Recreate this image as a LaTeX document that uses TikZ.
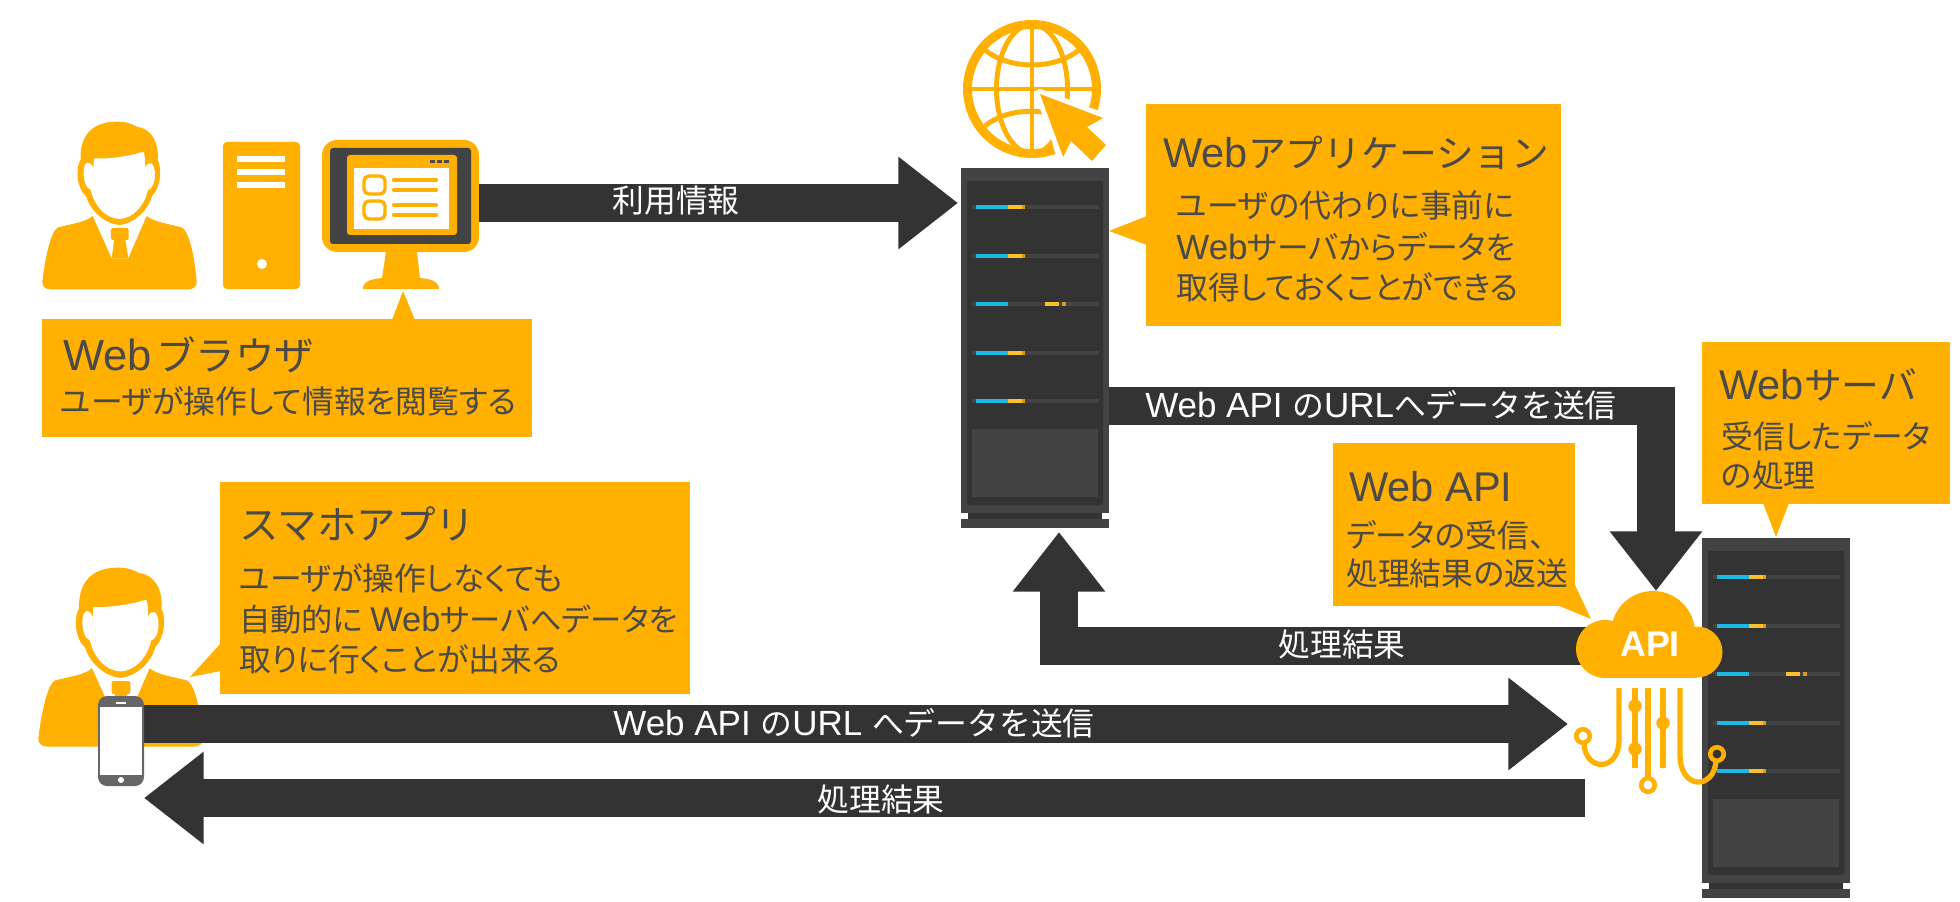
\documentclass[tikz,border=0pt]{standalone}
\usepackage{fontspec}
\setmainfont{Noto Sans CJK JP}
\newfontfamily\propfont[RawFeature=+palt]{Noto Sans CJK JP}
\newfontfamily\latfont[Scale=1.1]{Liberation Sans}
\newcommand{\lat}[1]{{\latfont #1}}
\usetikzlibrary{shapes,positioning,calc}
\usetikzlibrary{arrows.meta}
\definecolor{amber}{HTML}{FFB000}
\definecolor{ink}{HTML}{4A4A4A}
\definecolor{coal}{HTML}{333333}
\definecolor{frame}{HTML}{434343}
\definecolor{skyblue}{HTML}{1BB8E3}
\definecolor{lemon}{HTML}{FBC02D}
\definecolor{ochre}{HTML}{DC9A14}
\tikzstyle{bubble} = [rectangle, anchor=north west, inner sep=0pt, fill=amber]
\tikzstyle{bubbletitle} = [anchor=base west, inner sep=0pt, text=ink, font=\fontsize{21.5pt}{26pt}\selectfont]
\tikzstyle{bubblebody} = [anchor=base west, inner sep=0pt, text=ink, font=\propfont\fontsize{18.1pt}{22pt}\selectfont]
\tikzstyle{arrowlabel} = [anchor=base, inner sep=0pt, text=white, font=\fontsize{18.1pt}{22pt}\selectfont]
\tikzstyle{fatarrow} = [draw=coal, line width=21.8pt, -{Triangle[length=34pt,width=50.5pt]}]
\tikzstyle{wire} = [draw=amber, line width=3pt]
\tikzstyle{wirering} = [draw=amber, line width=2.6pt]
\tikzstyle{gridline} = [draw=amber, line width=2.8pt]

\begin{document}
\begin{tikzpicture}[x=0.02cm,y=-0.02cm]
	\useasboundingbox (0,0) rectangle (1960,902);
	% racks
	\foreach \rx/\ry in {961/168,1702/538} {
		\begin{scope}[shift={(\rx,\ry)}]
			\fill[frame] (0,0) rectangle (148,345);
			\fill[coal] (7,345) rectangle (141,351);
			\fill[frame] (0,351) rectangle (148,360);
			\fill[coal, rounded corners=.04cm] (6,13) rectangle (142,337);
			\fill[frame] (11,261) rectangle (137,329);
			\foreach \row in {39,87.5,136,184.5,233} {
				\fill[frame] (11,\row-2) rectangle (138,\row+2);
				\fill[skyblue] (15,\row-2) rectangle (47,\row+2);
			}
			\foreach \row in {39,87.5,184.5,233} {
				\fill[lemon] (47,\row-2) rectangle (61,\row+2);
				\fill[ochre] (61,\row-2) rectangle (64,\row+2);
			}
			\fill[lemon] (84,134) rectangle (98,138);
			\fill[ochre] (101,134) rectangle (105,138);
		\end{scope}
	}
	% persons
	\foreach \px/\py/\ps in {20/100/0.3333,14.5/544.5/0.3557} {
		\begin{scope}[shift={(\px,\py)},scale=\ps]
			\fill[amber] (67,545) .. controls (75,480) and (90,400) .. (112,383)
				.. controls (150,372) and (195,368) .. (218,348) -- (275,475) -- (325,475) -- (380,348)
				.. controls (405,368) and (450,372) .. (487,383)
				.. controls (510,400) and (525,480) .. (530,545)
				.. controls (531,560) and (520,568) .. (505,568) -- (92,568)
				.. controls (77,568) and (66,560) .. (67,545) -- cycle;
			\fill[amber, rounded corners=.04cm] (273,384) rectangle (326,420);
			\fill[amber] (283,418) -- (316,418) -- (325,475) -- (275,475) -- cycle;
			\fill[amber] (298,375) .. controls (250,370) and (210,330) .. (198,288)
				.. controls (180,275) and (170,240) .. (173,210)
				.. controls (174,195) and (178,185) .. (182,180)
				.. controls (178,110) and (215,65) .. (290,65)
				.. controls (320,65) and (335,72) .. (350,80)
				.. controls (395,85) and (418,130) .. (413,180)
				.. controls (425,200) and (425,260) .. (396,288)
				.. controls (385,330) and (345,370) .. (298,375) -- cycle;
			\fill[white] (222,175) .. controls (270,178) and (330,168) .. (370,155)
				.. controls (376,165) and (375,190) .. (376,203)
				.. controls (385,180) and (405,185) .. (405,225)
				.. controls (405,250) and (395,268) .. (384,270)
				.. controls (375,315) and (340,355) .. (298,357)
				.. controls (255,355) and (222,315) .. (212,270)
				.. controls (198,265) and (190,240) .. (191,215)
				.. controls (192,180) and (212,180) .. (220,205) -- cycle;
		\end{scope}
	}
	% desktop
	\fill[amber, rounded corners=.08cm] (223,142) rectangle (300,289);
	\foreach \sy in {156,169,182} {
		\fill[white] (237,\sy) rectangle (285,\sy+6);
	}
	\fill[white] (262,264) circle (5);
	% monitor
	\fill[amber, rounded corners=.3cm] (322,140) rectangle (479,252);
	\fill[frame, rounded corners=.06cm] (330,148) rectangle (471,244);
	\fill[amber, rounded corners=.06cm] (347,155) rectangle (457,235);
	\fill[white] (354,168) rectangle (449,229);
	\foreach \dx in {430,437,444} {
		\fill[ink] (\dx,160) rectangle (\dx+5,163);
	}
	\foreach \iy in {176,201} {
		\draw[amber, line width=1.9pt, rounded corners=.1cm] (364,\iy) rectangle (385,\iy+18);
		\draw[amber, line width=2.4pt, line cap=round] (394,\iy+4) -- (436,\iy+4);
		\draw[amber, line width=2.4pt, line cap=round] (394,\iy+14) -- (436,\iy+14);
	}
	\fill[amber] (386,252) -- (417,252) -- (420,278) .. controls (432,279) and (439,282) .. (439,289)
		-- (363,289) .. controls (363,282) and (370,279) .. (382,278) -- cycle;
	% globe
	\draw[amber, line width=5.1pt] (1032,89) ++(70:64.5) arc [start angle=70, end angle=378, radius=64.5];
	\draw[gridline] (1032,89) ellipse (35.5 and 64.5);
	\draw[gridline] (968,89) -- (1096,89);
	\draw[gridline] (1032,25) -- (1032,153);
	\draw[gridline] (985,50) .. controls (1010,70) and (1054,70) .. (1079,50);
	\draw[gridline] (985,126) .. controls (1002,112) and (1025,110) .. (1042,112);
	\filldraw[draw=white, fill=white, line width=5.7pt, line join=round] (1040,94) -- (1103,118) -- (1087,127) -- (1106,145) -- (1092,161) -- (1071,141) -- (1063,157) -- cycle;
	\fill[amber] (1040,94) -- (1103,118) -- (1087,127) -- (1106,145) -- (1092,161) -- (1071,141) -- (1063,157) -- cycle;
	% ends of the arrows
	\coordinate (monitorout) at (479,203);
	\coordinate (rackin) at (958,203);
	\coordinate (rackout) at (1109,406);
	\coordinate (cloudin) at (1656,591);
	\coordinate (cloudout) at (1600,646);
	\coordinate (rackback) at (1059,532);
	\coordinate (phoneout) at (130,724);
	\coordinate (wiresin) at (1568,724);
	\coordinate (wiresout) at (1585,798);
	\coordinate (phonein) at (144,798);
	\draw[fatarrow] (monitorout) -- (rackin);
	\draw[fatarrow] (rackout) -| (cloudin);
	\draw[fatarrow] (cloudout) -| (rackback);
	\draw[fatarrow] (phoneout) -- (wiresin);
	\draw[fatarrow] (wiresout) -- (phonein);
	\node (usage) at (676,213) [arrowlabel] {利用情報};
	\node (sendtop) at (1381,417) [arrowlabel] {\lat{Web API }の\lat{URL}へデータを送信};
	\node (resulttop) at (1342,656) [arrowlabel] {処理結果};
	\node (sendlow) at (854,735) [arrowlabel] {\lat{Web API }の\lat{URL }へデータを送信};
	\node (resultlow) at (881,811) [arrowlabel] {処理結果};
	% phone
	\fill[black!60, rounded corners=.18cm] (98,696) rectangle (144,786);
	\fill[white] (100,707) rectangle (142,775);
	\fill[white] (116,702) rectangle (126,704);
	\fill[white] (121,780) circle (3);
	% cloud
	\fill[amber] (1653,633) circle (42);
	\fill[amber] (1605,649) circle (29);
	\fill[amber] (1697,652) circle (25.5);
	\fill[amber] (1605,630) rectangle (1697,678);
	\node (apitext) at (1650,656) [anchor=base, inner sep=0pt, text=white, font=\latfont\bfseries\fontsize{18.5pt}{22pt}\selectfont] {API};
	% wires
	\draw[wire] (1619,688) -- (1619,740) .. controls (1619,772) and (1585,772) .. (1584,743);
	\draw[wire] (1635,688) -- (1635,768);
	\draw[wire] (1648,688) -- (1648,778);
	\draw[wire] (1663,688) -- (1663,768);
	\draw[wire] (1680,688) -- (1680,755) .. controls (1680,790) and (1714,790) .. (1716,761);
	\fill[amber] (1635,706) circle (6.7) (1635,749) circle (6.7) (1663,723) circle (6.7);
	\draw[wirering] (1583,736) circle (6.75);
	\draw[wirering] (1648,785) circle (6.75);
	\draw[wirering] (1717,754) circle (6.75);
	% callouts
	\node (browserbox) at (42,319) [bubble, minimum width=9.8cm, minimum height=2.36cm] {};
	\fill[amber] (392,320) -- (403,291) -- (415,320) -- cycle;
	\node (browsertitle) at (63,370) [bubbletitle, font=\fontsize{22.5pt}{26pt}\selectfont] {\lat{Web}\hspace{2.5pt}ブラウザ};
	\node (browsertext) at (60,413) [bubblebody] {ユーザが操作して情報を閲覧する};
	\node (appbox) at (1146,104) [bubble, minimum width=8.3cm, minimum height=4.44cm] {};
	\fill[amber] (1147,216) -- (1109,231) -- (1147,245) -- cycle;
	\node (apptitle) at (1163,168) [bubbletitle] {\lat{Web}アプリケーション};
	\node (apptexta) at (1176,217) [bubblebody] {ユーザの代わりに事前に};
	\node (apptextb) at (1176,259) [bubblebody] {\lat{Web}サーバからデータを};
	\node (apptextc) at (1176,299) [bubblebody] {取得しておくことができる};
	\node (mobilebox) at (220,482) [bubble, minimum width=9.4cm, minimum height=4.24cm] {};
	\fill[amber] (221,643) -- (190,677) -- (221,671) -- cycle;
	\node (mobiletitle) at (239,539) [bubbletitle, font=\fontsize{22.5pt}{26pt}\selectfont] {スマホアプリ};
	\node (mobiletexta) at (239,590) [bubblebody] {ユーザが操作しなくても};
	\node (mobiletextb) at (239,631) [bubblebody, font=\propfont\fontsize{17.8pt}{22pt}\selectfont] {自動的に \lat{Web}サーバへデータを};
	\node (mobiletextc) at (239,671) [bubblebody] {取りに行くことが出来る};
	\node (apibox) at (1333,443) [bubble, minimum width=4.84cm, minimum height=3.26cm] {};
	\fill[amber] (1575,585) -- (1591,619) -- (1557,605) -- cycle;
	\node (apititle) at (1349,501) [bubbletitle] {\lat{Web API}};
	\node (apitexta) at (1346,547) [bubblebody] {データの受信、};
	\node (apitextb) at (1346,585) [bubblebody] {処理結果の返送};
	\node (serverbox) at (1702,342) [bubble, minimum width=4.96cm, minimum height=3.24cm] {};
	\fill[amber] (1763,503) -- (1776,537) -- (1789,503) -- cycle;
	\node (servertitle) at (1719,399) [bubbletitle] {\lat{Web}サーバ};
	\node (servertexta) at (1721,448) [bubblebody] {受信したデータ};
	\node (servertextb) at (1721,487) [bubblebody] {の処理};
\end{tikzpicture}
\end{document}
